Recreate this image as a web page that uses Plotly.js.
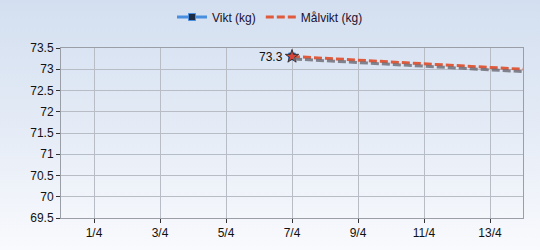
<!DOCTYPE html>
<html><head><meta charset="utf-8">
<script src="https://cdn.plot.ly/plotly-3.0.1.min.js"></script>
<style>
html,body{margin:0;padding:0;}
body{width:540px;height:250px;background:linear-gradient(to bottom,#d3dff0 0%,#e4ebf6 50%,#f9fafd 100%);overflow:hidden;}
#chart{width:540px;height:250px;}
</style></head>
<body><div id="chart"></div>
<script>
const viktDates = ['2024-04-07'];
const viktValues = [73.3];
const viktLabels = ['73.3'];
const malDates = ['2024-04-07', '2024-04-14'];
const malValues = [73.3, 73.0];
const xRange = ['2024-03-31', '2024-04-14'];
const yRange = [69.5, 73.5];
const tickDates = ['2024-04-01','2024-04-03','2024-04-05','2024-04-07','2024-04-09','2024-04-11','2024-04-13'];
const tickLabels = ['1/4','3/4','5/4','7/4','9/4','11/4','13/4'];
const yTicks = [69.5,70,70.5,71,71.5,72,72.5,73,73.5];
const yTickLabels = ['69.5','70','70.5','71','71.5','72','72.5','73','73.5'];

// shadow offset in pixels, converted through axis scale
const plotW = 540 - 61 - 17, plotH = 250 - 48 - 32;
const x0 = new Date(xRange[0]).getTime(), x1 = new Date(xRange[1]).getTime();
const dxMs = (x1 - x0) / plotW * 2;
const dy = (yRange[1] - yRange[0]) / plotH * 2.5;
const fmt = t => new Date(t).toISOString().slice(0,19).replace('T',' ');

const traces = [
  {x: malDates, y: malValues, xaxis:'x2', yaxis:'y2', mode:'lines', showlegend:false, hoverinfo:'skip',
   line:{color:'rgba(105,105,115,0.8)', width:3, dash:'8px,3px'}},
  {x: viktDates, y: viktValues, name:'Vikt (kg)', mode:'lines+markers',
   line:{color:'#4a8ee0', width:3}, marker:{symbol:'square', size:7, color:'#1c2a44', line:{color:'#4a8ee0', width:1}}},
  {x: malDates, y: malValues, name:'Målvikt (kg)', mode:'lines',
   line:{color:'#e05a3c', width:3, dash:'8px,3px'}},
  {x: viktDates, y: viktValues, mode:'markers', showlegend:false, hoverinfo:'skip',
   marker:{symbol:'star', size:10, color:'#d9443a', line:{color:'#333', width:1}}}
];

const axisFont = {family:'Liberation Sans, Arial', size:12, color:'#111'};
const layout = {
  width:540, height:250,
  margin:{l:61, r:17, t:48, b:32, autoexpand:false},
  paper_bgcolor:'rgba(0,0,0,0)', plot_bgcolor:'rgba(0,0,0,0)',
  font: axisFont,
  showlegend:true,
  legend:{orientation:'h', x:0.5, xanchor:'center', xref:'container', yref:'container', y:0.932, yanchor:'middle', bgcolor:'rgba(0,0,0,0)',
          font:{family:'Liberation Sans, Arial', size:12, color:'#1a1030'}, traceorder:'normal'},
  annotations: viktDates.map((d,i) => ({x:d, y:viktValues[i], text:viktLabels[i], showarrow:false,
          xanchor:'right', yanchor:'middle', xshift:-7, font:{family:'Liberation Sans, Arial', size:12, color:'#111'}})),
  xaxis:{type:'date', range:xRange, tickvals:tickDates, ticktext:tickLabels, showgrid:true,
         gridcolor:'#b8bcc4', gridwidth:1, linecolor:'#9a9ea6', linewidth:1, mirror:true,
         ticks:'outside', ticklen:4, tickcolor:'#333', tickfont:axisFont, zeroline:false, fixedrange:true},
  yaxis:{range:yRange, tickvals:yTicks, ticktext:yTickLabels, showgrid:true,
         gridcolor:'#b8bcc4', gridwidth:1, linecolor:'#9a9ea6', linewidth:1, mirror:true,
         ticks:'outside', ticklen:4, tickcolor:'#333', tickfont:axisFont, zeroline:false},
  xaxis2:{type:'date', overlaying:'x', range:[fmt(x0 - dxMs), fmt(x1 - dxMs)], visible:false, fixedrange:true},
  yaxis2:{overlaying:'y', range:[yRange[0] + dy, yRange[1] + dy], visible:false}
};
Plotly.newPlot('chart', traces, layout, {displayModeBar:false, staticPlot:true});
</script></body></html>
